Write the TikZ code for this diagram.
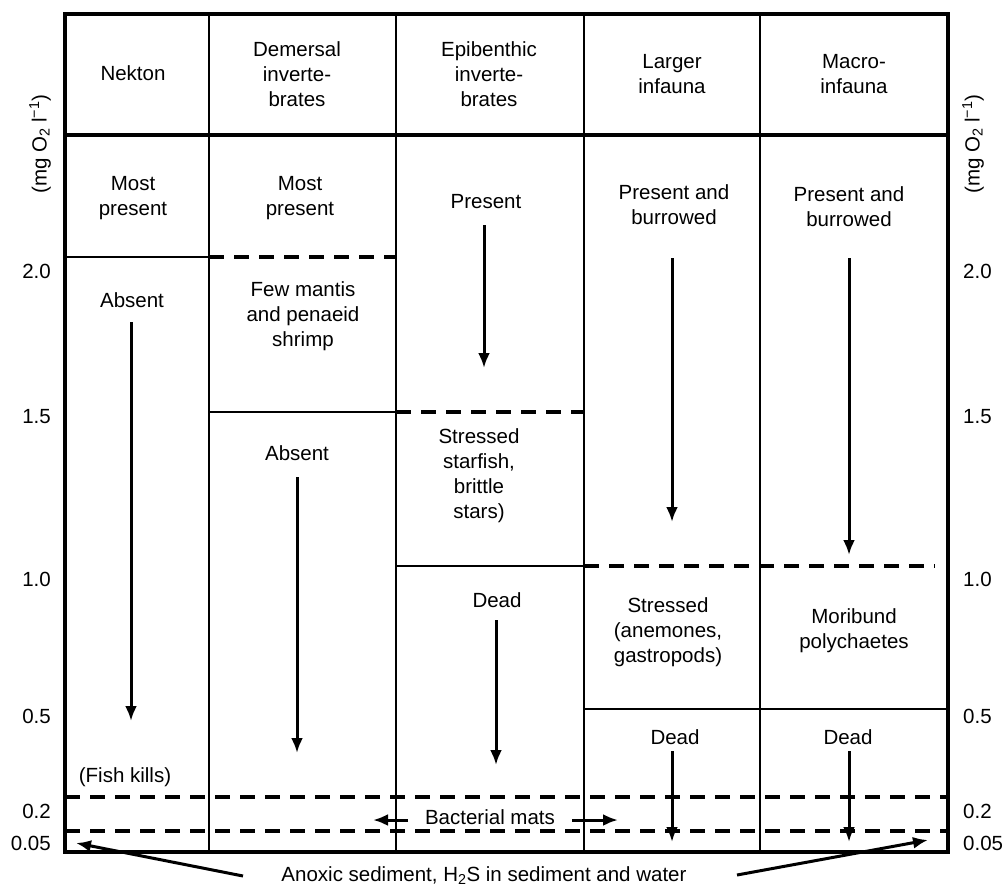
\documentclass[tikz,border=0pt]{standalone}
\usepackage{fontspec}
\setmainfont{Liberation Sans}
\usetikzlibrary{arrows.meta}
\begin{document}
\begin{tikzpicture}[x=1pt,y=-1pt,
  txt/.style={font=\fontsize{20.5}{25}\selectfont, align=center, inner sep=0pt},
  framebox/.style={line width=3.2pt},
  colline/.style={line width=1.8pt},
  solidline/.style={line width=2.8pt},
  dashline/.style={line width=4.5pt, dash pattern=on 15pt off 10pt},
  arr/.style={line width=3pt, -{Latex[length=15pt,width=12pt]}},
  lnum/.style={txt, anchor=east},
  rnum/.style={txt, anchor=west},
]
\useasboundingbox (0,0) rectangle (1004,887);

% frame and grid
\draw[framebox] (65,14) rectangle (948,852);
\draw[framebox] (65,135) -- (948,135);
\foreach \x in {209,396,584,760} \draw[colline] (\x,14) -- (\x,852);

% horizontal boundaries
\draw[solidline] (65,257) -- (209,257);
\draw[dashline] (209,257) -- (396,257);
\draw[solidline] (209,412) -- (396,412);
\draw[dashline] (396,412) -- (584,412);
\draw[solidline] (396,566) -- (584,566);
\draw[dashline] (584,566) -- (935,566);
\draw[solidline] (584,709) -- (948,709);
\draw[dashline] (65,797) -- (948,797);
\draw[dashline] (65,831) -- (948,831);

% header
\node[txt] (h1) at (133,73) {Nekton};
\node[txt] (h2) at (297,74) {Demersal\\inverte-\\brates};
\node[txt] (h3) at (489,74) {Epibenthic\\inverte-\\brates};
\node[txt] (h4) at (672,74) {Larger\\infauna};
\node[txt] (h5) at (854,74) {Macro-\\infauna};

% cells
\node[txt] (c11) at (133,198) {Most\\present};
\node[txt] (c21) at (300,198) {Most\\present};
\node[txt] (c31) at (486,202) {Present};
\node[txt] (c41) at (674,205) {Present and\\burrowed};
\node[txt] (c51) at (849,207) {Present and\\burrowed};
\node[txt] (c12) at (132,300) {Absent};
\node[txt] (c22) at (303,316) {Few mantis\\and penaeid\\shrimp};
\node[txt] (c23) at (297,453) {Absent};
\node[txt] (c32) at (479,476) {Stressed\\starfish,\\brittle\\stars)};
\node[txt] (c33) at (497,600) {Dead};
\node[txt] (c42) at (668,632) {Stressed\\(anemones,\\gastropods)};
\node[txt] (c52) at (854,631) {Moribund\\polychaetes};
\node[txt] (c43) at (675,737) {Dead};
\node[txt] (c53) at (848,737) {Dead};
\node[txt] (fk) at (125,777) {(Fish kills)};
\node[txt] (bm) at (490,817) {Bacterial mats};
\node[txt, anchor=base] (an) at (484,881) {Anoxic sediment, H\textsubscript{2}S in sediment and water};

% axis labels
\node[txt, rotate=90] (ul) at (40,144) {(mg O\textsubscript{2} l\textsuperscript{−1})};
\node[txt, rotate=90] (ur) at (973,144) {(mg O\textsubscript{2} l\textsuperscript{−1})};
\node[lnum] (l20) at (51,271) {2.0};
\node[lnum] (l15) at (51,417) {1.5};
\node[lnum] (l10) at (51,579) {1.0};
\node[lnum] (l05) at (51,716) {0.5};
\node[lnum] (l02) at (51,811) {0.2};
\node[lnum] (l005) at (51,843) {0.05};
\node[rnum] (r20) at (963,271) {2.0};
\node[rnum] (r15) at (963,417) {1.5};
\node[rnum] (r10) at (963,579) {1.0};
\node[rnum] (r05) at (963,716) {0.5};
\node[rnum] (r02) at (963,811) {0.2};
\node[rnum] (r005) at (963,843) {0.05};

% arrow end points
\coordinate (a1s) at (131,322); \coordinate (a1e) at (131,721);
\coordinate (a2s) at (297,477); \coordinate (a2e) at (297,753);
\coordinate (a3s) at (484,225); \coordinate (a3e) at (484,368);
\coordinate (a4s) at (496,620); \coordinate (a4e) at (496,765);
\coordinate (a5s) at (672,258); \coordinate (a5e) at (672,522);
\coordinate (a6s) at (849,258); \coordinate (a6e) at (849,555);
\coordinate (a7s) at (672,751); \coordinate (a7e) at (672,842);
\coordinate (a8s) at (849,751); \coordinate (a8e) at (849,842);
\coordinate (b1s) at (408,820); \coordinate (b1e) at (373,820);
\coordinate (b2s) at (572,820); \coordinate (b2e) at (618,820);
\coordinate (x1s) at (243,876); \coordinate (x1e) at (76,843);
\coordinate (x2s) at (737,875); \coordinate (x2e) at (928,840);

\foreach \p in {a1,a2,a3,a4,a5,a6,a7,a8,b1,b2,x1,x2}
  \draw[arr] (\p s) -- (\p e);
\end{tikzpicture}
\end{document}
